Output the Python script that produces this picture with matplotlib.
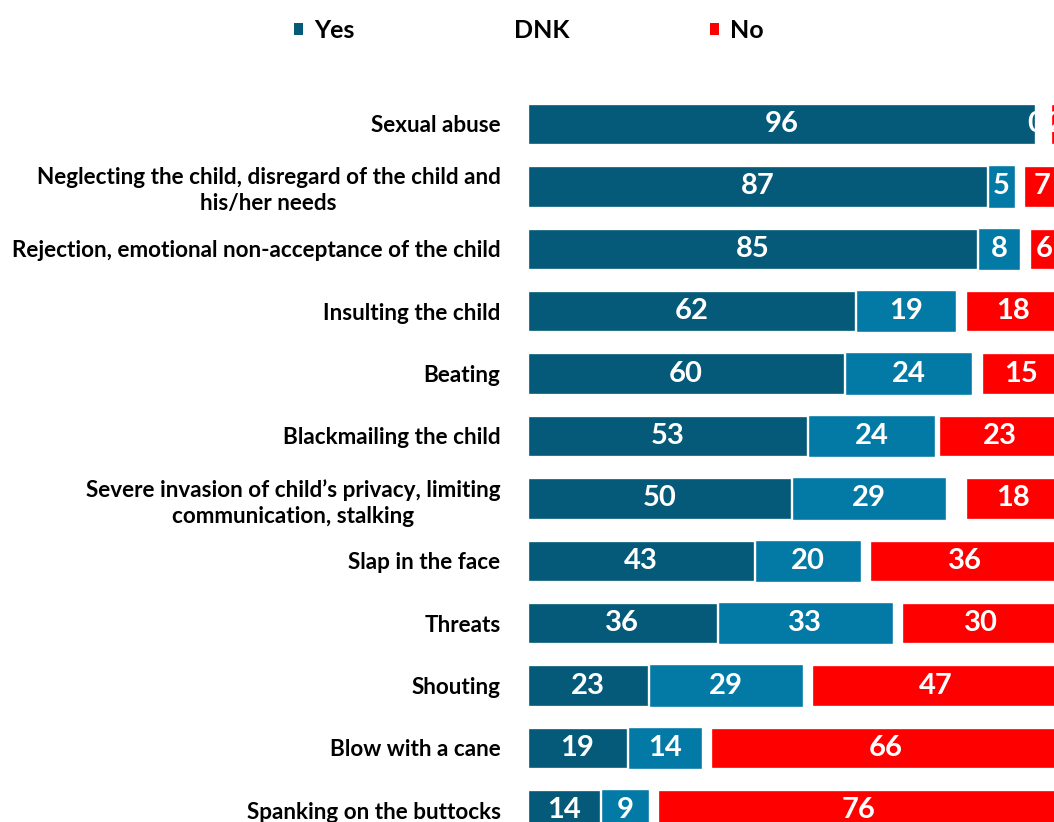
import numpy as np
import matplotlib
matplotlib.use("Agg")
import matplotlib.pyplot as plt
from matplotlib.patches import Patch

plt.rcParams['font.family'] = ['Lato', 'DejaVu Sans']
plt.rcParams['font.weight'] = 'bold'

# datos
categorias = [
    "Sexual abuse",
    "Neglecting the child, disregard of the child and\nhis/her needs",
    "Rejection, emotional non-acceptance of the child",
    "Insulting the child",
    "Beating",
    "Blackmailing the child",
    "Severe invasion of child\u2019s privacy, limiting\ncommunication, stalking",
    "Slap in the face",
    "Threats",
    "Shouting",
    "Blow with a cane",
    "Spanking on the buttocks",
]
yes = [96, 87, 85, 62, 60, 53, 50, 43, 36, 23, 19, 14]
dnk = [0, 5, 8, 19, 24, 24, 29, 20, 33, 29, 14, 9]
no = [2, 7, 6, 18, 15, 23, 18, 36, 30, 47, 66, 76]
series_names = ["Yes", "DNK", "No"]

c_yes = "#045A78"
c_dnk = "#0379A5"
c_no = "#FF0000"

yes = np.array(yes)
dnk = np.array(dnk)
no = np.array(no)
pos = np.arange(len(categorias))
fin_no = 100.6  # las barras "No" van alineadas a la derecha

fig = plt.figure(figsize=(10.54, 8.22), dpi=100)
ax = fig.add_axes([0.5, 0.0, 0.5, 1.0])

alto = 0.68
b1 = ax.barh(pos, yes, height=alto, color=c_yes, edgecolor="white", linewidth=2.4)
b2 = ax.barh(pos, dnk, left=yes, height=alto, color=c_dnk, edgecolor="white", linewidth=1.0)
b3 = ax.barh(pos, no, left=fin_no - no, height=alto, color=c_no, edgecolor="white", linewidth=2.4)

for barras, vals in [(b1, yes), (b2, dnk), (b3, no)]:
    for rect, v in zip(barras, vals):
        cx = rect.get_x() + rect.get_width() / 2
        cy = rect.get_y() + rect.get_height() / 2
        ax.text(cx, cy, str(v), ha="center", va="center", color="white",
                fontsize=21, fontweight="bold", clip_on=False)

ax.set_xlim(0, 99.4)
ax.set_ylim(11.186, -1.987)
ax.set_yticks(pos)
ax.set_yticklabels(categorias, fontsize=16.2, fontweight="bold", linespacing=1.3)
for lab in ax.get_yticklabels():
    lab.set_multialignment("center")
ax.tick_params(axis="y", length=0, pad=19)
ax.set_xticks([])
for s in ax.spines.values():
    s.set_visible(False)

handles = [Patch(facecolor=c_yes), Patch(facecolor="white"), Patch(facecolor=c_no)]
fig.legend(handles, series_names, loc="center left", bbox_to_anchor=(0.279, 0.963),
           ncol=3, frameon=False, prop={"size": 18, "weight": "bold"},
           handlelength=0.35, handleheight=0.35, handletextpad=0.45,
           columnspacing=5.6, borderpad=0, borderaxespad=0)

plt.savefig("out.png", dpi=100)
